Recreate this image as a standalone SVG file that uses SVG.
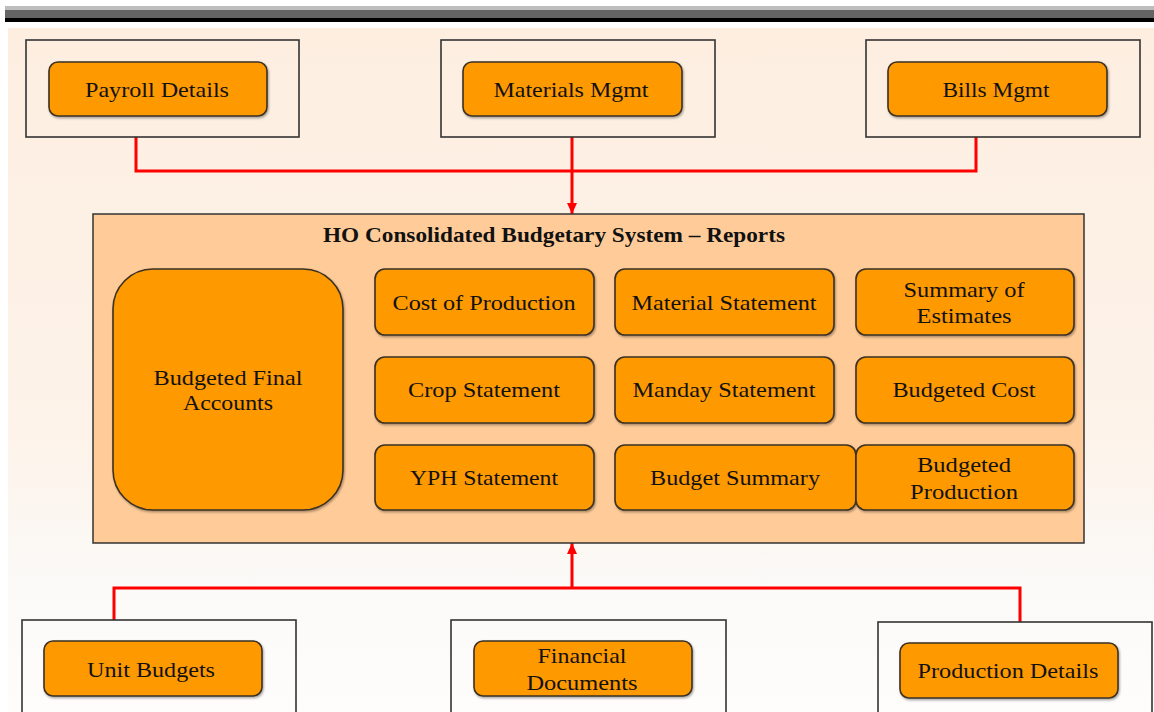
<svg xmlns="http://www.w3.org/2000/svg" width="1154" height="712" viewBox="0 0 1154 712">
<defs>
<linearGradient id="bg" x1="0" y1="28" x2="0" y2="712" gradientUnits="userSpaceOnUse">
<stop offset="0" stop-color="#FDEEE0"/>
<stop offset="0.6" stop-color="#FDF3EA"/>
<stop offset="0.82" stop-color="#FBFAF8"/>
<stop offset="1" stop-color="#FEFDFC"/>
</linearGradient>
<marker id="arr" markerWidth="12" markerHeight="12" refX="11" refY="6" orient="auto" markerUnits="userSpaceOnUse" viewBox="0 0 12 12">
<path d="M0,1 L11,6 L0,11 Z" fill="#FF0000"/>
</marker>
<filter id="sh" x="-5%" y="-5%" width="115%" height="120%">
<feDropShadow dx="1" dy="1.5" stdDeviation="0.8" flood-color="#000" flood-opacity="0.35"/>
</filter>
</defs>
<style>
.frame{fill:none;stroke:#333;stroke-width:1.6}
.btn{fill:#FF9900;stroke:#3B3024;stroke-width:1.6;filter:url(#sh)}
.t{font-family:"Liberation Serif","DejaVu Serif",serif;font-size:21px;fill:#111;text-anchor:middle}
.title{font-family:"Liberation Serif","DejaVu Serif",serif;font-size:21px;font-weight:bold;fill:#111;text-anchor:middle}
.wire{fill:none;stroke:#FF0000;stroke-width:3}
</style>
<rect x="0" y="0" width="1154" height="712" fill="#FFFFFF"/>
<rect x="5" y="6" width="1149" height="4" fill="#BDBDBD"/>
<rect x="5" y="10" width="1149" height="8" fill="#646464"/>
<rect x="5" y="18" width="1149" height="4" fill="#000000"/>
<rect x="8" y="28" width="1146" height="684" fill="url(#bg)"/>

<g id="connectors">
<path class="wire" d="M136,137 V171 H976 V137"/>
<path class="wire" d="M572,137 V214" marker-end="url(#arr)"/>
<path class="wire" d="M114,620 V588 H1020 V622"/>
<path class="wire" d="M572,588 V543" marker-end="url(#arr)"/>
</g>

<g id="payroll">
<rect class="frame" x="26" y="40" width="273" height="97"/>
<rect class="btn" x="49" y="62" width="218" height="54" rx="9"/>
<text class="t" x="157" y="97" textLength="144" lengthAdjust="spacingAndGlyphs">Payroll Details</text>
</g>
<g id="materials">
<rect class="frame" x="441" y="40" width="274" height="97"/>
<rect class="btn" x="463" y="62" width="219" height="54" rx="9"/>
<text class="t" x="571" y="97" textLength="155" lengthAdjust="spacingAndGlyphs">Materials Mgmt</text>
</g>
<g id="bills">
<rect class="frame" x="866" y="40" width="274" height="97"/>
<rect class="btn" x="888" y="62" width="219" height="54" rx="9"/>
<text class="t" x="996" y="97" textLength="107" lengthAdjust="spacingAndGlyphs">Bills Mgmt</text>
</g>

<g id="ho-system">
<rect x="93" y="214" width="991" height="329" fill="#FFCC99" stroke="#333" stroke-width="1.5"/>
<text class="title" x="554" y="242" textLength="462" lengthAdjust="spacingAndGlyphs">HO Consolidated Budgetary System – Reports</text>
</g>

<g id="budgeted-final-accounts">
<rect class="btn" x="113" y="269" width="230" height="241" rx="40"/>
<text class="t" x="228" y="385" textLength="149" lengthAdjust="spacingAndGlyphs">Budgeted Final</text>
<text class="t" x="228" y="410" textLength="90" lengthAdjust="spacingAndGlyphs">Accounts</text>
</g>
<g id="cost-of-production">
<rect class="btn" x="375" y="269" width="219" height="66" rx="10"/>
<text class="t" x="484" y="310" textLength="183" lengthAdjust="spacingAndGlyphs">Cost of Production</text>
</g>
<g id="material-statement">
<rect class="btn" x="615" y="269" width="219" height="66" rx="10"/>
<text class="t" x="724" y="310" textLength="185" lengthAdjust="spacingAndGlyphs">Material Statement</text>
</g>
<g id="summary-of-estimates">
<rect class="btn" x="856" y="269" width="218" height="66" rx="10"/>
<text class="t" x="964" y="297" textLength="121" lengthAdjust="spacingAndGlyphs">Summary of</text>
<text class="t" x="964" y="323" textLength="95" lengthAdjust="spacingAndGlyphs">Estimates</text>
</g>
<g id="crop-statement">
<rect class="btn" x="375" y="357" width="219" height="66" rx="10"/>
<text class="t" x="484" y="397" textLength="152" lengthAdjust="spacingAndGlyphs">Crop Statement</text>
</g>
<g id="manday-statement">
<rect class="btn" x="615" y="357" width="219" height="66" rx="10"/>
<text class="t" x="724" y="397" textLength="183" lengthAdjust="spacingAndGlyphs">Manday Statement</text>
</g>
<g id="budgeted-cost">
<rect class="btn" x="856" y="357" width="218" height="66" rx="10"/>
<text class="t" x="964" y="397" textLength="143" lengthAdjust="spacingAndGlyphs">Budgeted Cost</text>
</g>
<g id="yph-statement">
<rect class="btn" x="375" y="445" width="219" height="65" rx="10"/>
<text class="t" x="484" y="485" textLength="148" lengthAdjust="spacingAndGlyphs">YPH Statement</text>
</g>
<g id="budget-summary">
<rect class="btn" x="615" y="445" width="241" height="65" rx="10"/>
<text class="t" x="735" y="485" textLength="170" lengthAdjust="spacingAndGlyphs">Budget Summary</text>
</g>
<g id="budgeted-production">
<rect class="btn" x="856" y="445" width="218" height="65" rx="10"/>
<text class="t" x="964" y="472" textLength="94" lengthAdjust="spacingAndGlyphs">Budgeted</text>
<text class="t" x="964" y="499" textLength="108" lengthAdjust="spacingAndGlyphs">Production</text>
</g>

<g id="unit-budgets">
<rect class="frame" x="22" y="620" width="274" height="100"/>
<rect class="btn" x="44" y="641" width="218" height="55" rx="9"/>
<text class="t" x="151" y="677" textLength="128" lengthAdjust="spacingAndGlyphs">Unit Budgets</text>
</g>
<g id="financial-documents">
<rect class="frame" x="451" y="620" width="275" height="100"/>
<rect class="btn" x="474" y="641" width="218" height="55" rx="9"/>
<text class="t" x="582" y="663" textLength="89" lengthAdjust="spacingAndGlyphs">Financial</text>
<text class="t" x="582" y="690" textLength="111" lengthAdjust="spacingAndGlyphs">Documents</text>
</g>
<g id="production-details">
<rect class="frame" x="878" y="622" width="274" height="100"/>
<rect class="btn" x="900" y="643" width="218" height="55" rx="9"/>
<text class="t" x="1008" y="678" textLength="181" lengthAdjust="spacingAndGlyphs">Production Details</text>
</g>
</svg>
